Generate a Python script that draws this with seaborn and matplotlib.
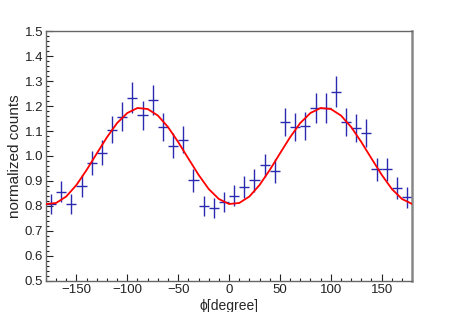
"""Normalized counts vs azimuthal angle with cos(2phi) fit."""
import matplotlib

matplotlib.use("Agg")
import matplotlib.pyplot as plt
import pandas as pd
import seaborn as sns
from matplotlib.ticker import MultipleLocator

# bin centres [degree] and normalized counts with their errors
phi_bins = [
    -175, -165, -155, -145, -135, -125, -115, -105, -95, -85, -75, -65,
    -55, -45, -35, -25, -15, -5, 5, 15, 25, 35, 45, 55,
    65, 75, 85, 95, 105, 115, 125, 135, 145, 155, 165, 175,
]
counts = [
    0.809, 0.857, 0.809, 0.879, 0.973, 1.013, 1.106, 1.157, 1.234, 1.163,
    1.224, 1.117, 1.042, 1.066, 0.902, 0.801, 0.792, 0.816, 0.841, 0.876,
    0.902, 0.962, 0.939, 1.136, 1.117, 1.122, 1.191, 1.194, 1.258, 1.136,
    1.113, 1.093, 0.946, 0.946, 0.872, 0.834,
]
count_errors = [
    0.040, 0.043, 0.040, 0.044, 0.049, 0.051, 0.055, 0.058, 0.062, 0.058,
    0.061, 0.056, 0.052, 0.053, 0.045, 0.040, 0.040, 0.041, 0.042, 0.044,
    0.045, 0.048, 0.047, 0.057, 0.056, 0.056, 0.060, 0.060, 0.063, 0.057,
    0.056, 0.055, 0.047, 0.047, 0.044, 0.042,
]
bin_half_width = 5

# fitted curve
fit_phi = [
    -180, -170, -160, -150, -140, -130, -120, -110, -100, -90, -80, -70,
    -60, -50, -40, -30, -20, -10, 0, 10, 20, 30, 40, 50,
    60, 70, 80, 90, 100, 110, 120, 130, 140, 150, 160, 170, 180,
]
fit_vals = [
    0.808, 0.812, 0.838, 0.884, 0.944, 1.010, 1.075, 1.132, 1.172, 1.192,
    1.188, 1.162, 1.116, 1.056, 0.990, 0.925, 0.868, 0.828, 0.808, 0.812,
    0.838, 0.884, 0.944, 1.010, 1.075, 1.132, 1.172, 1.192, 1.188, 1.162,
    1.116, 1.056, 0.990, 0.925, 0.868, 0.828, 0.808,
]

data = pd.DataFrame({"phi": phi_bins, "counts": counts, "err": count_errors})
fit = pd.DataFrame({"phi": fit_phi, "fit": fit_vals})

sns.set_theme(style="white")
plt.rcParams["font.family"] = ["Liberation Sans", "DejaVu Sans"]

fig = plt.figure(figsize=(4.59, 3.12), dpi=100)
ax = fig.add_axes([0.100, 0.0994, 0.798, 0.8012])

# data points drawn as ROOT-style crosses
ax.errorbar(
    data["phi"],
    data["counts"],
    xerr=bin_half_width,
    yerr=data["err"],
    fmt="none",
    ecolor="#2a2ab0",
    elinewidth=1.0,
    capsize=0,
    zorder=2,
)
sns.lineplot(
    data=fit, x="phi", y="fit", ax=ax, color="#ff0000", linewidth=1.3,
    sort=False, estimator=None, zorder=3,
)

ax.set_xlim(-180, 180)
ax.set_ylim(0.5, 1.5)
ax.xaxis.set_major_locator(MultipleLocator(50))
ax.xaxis.set_minor_locator(MultipleLocator(10))
ax.yaxis.set_major_locator(MultipleLocator(0.1))
ax.yaxis.set_minor_locator(MultipleLocator(0.02))
ax.xaxis.set_ticks_position("bottom")
ax.yaxis.set_ticks_position("left")
ax.tick_params(which="both", direction="in", colors="#222222",
               labelsize=9.5, pad=2)
ax.tick_params(which="major", length=5, width=0.8)
ax.tick_params(which="minor", length=2.5, width=0.8)

for side, spine in ax.spines.items():
    spine.set_color("#666666")
    spine.set_linewidth(1.0)
ax.spines["right"].set_linewidth(1.8)
ax.spines["right"].set_color("#888888")

ax.set_xlabel("ϕ[degree]", fontsize=10, labelpad=2,
              family=["Liberation Sans", "DejaVu Sans"])
ax.set_ylabel("normalized counts", fontsize=11, labelpad=2)
ax.grid(False)

fig.savefig("out.png", dpi=100, facecolor="white")
